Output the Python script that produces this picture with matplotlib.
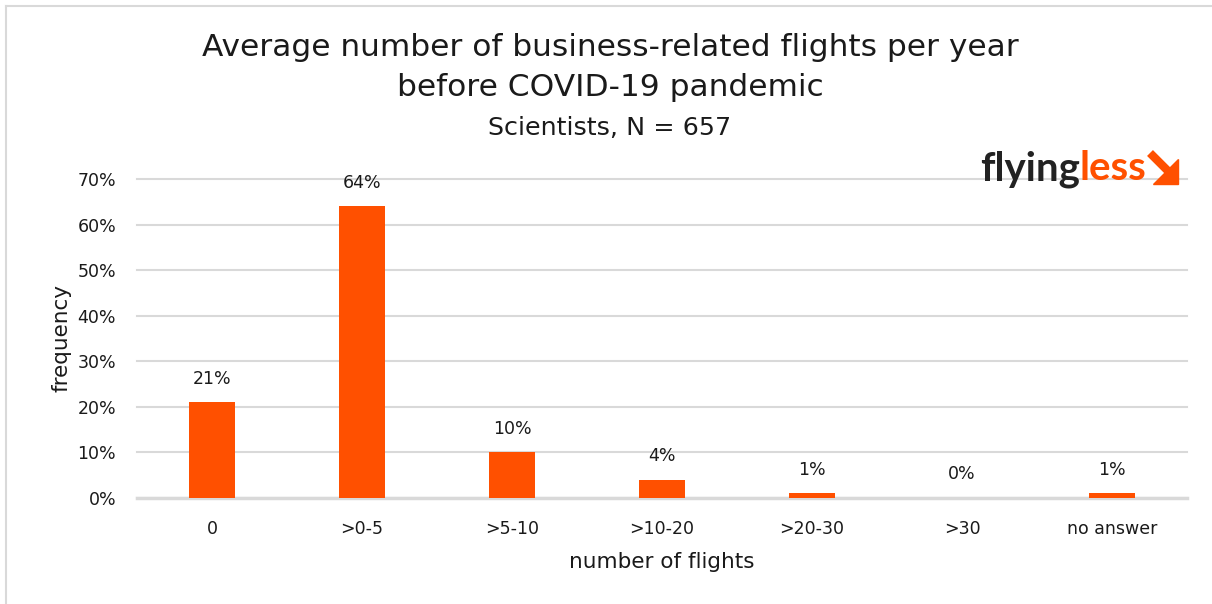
import matplotlib.pyplot as plt
import numpy as np
from matplotlib.lines import Line2D
from matplotlib.patches import Polygon
from matplotlib.ticker import PercentFormatter

categories = ["0", ">0-5", ">5-10", ">10-20", ">20-30", ">30", "no answer"]
values = [21, 64, 10, 4, 1, 0, 1]
yticks = [0, 10, 20, 30, 40, 50, 60, 70]

orange = "#FF5000"
grid_c = "#D9D9D9"
txt_c = "#1a1a1a"
W, H = 1212, 604
plt.rcParams['font.family'] = ['DejaVu Sans']


def px(x, y):
    # pixel position (from top-left) -> figure fraction
    return x / W, 1 - y / H


fig = plt.figure(figsize=(W / 100, H / 100), dpi=100)
ax = fig.add_axes([137 / W, 1 - 498 / H, 1050 / W, 319 / H])

x = np.arange(len(categories))
ax.bar(x, values, width=0.31, color=orange, zorder=3)
for xi, v in zip(x, values):
    ax.annotate(f"{v}%", (xi, v), xytext=(0, 17), textcoords="offset points",
                ha="center", va="center", fontsize=12.5, color=txt_c)

ax.set_xlim(-0.5, len(categories) - 0.5)
ax.set_ylim(0, 70)
ax.set_yticks(yticks)
ax.yaxis.set_major_formatter(PercentFormatter(decimals=0))
ax.set_xticks(x)
ax.set_xticklabels(categories)
ax.tick_params(length=0, labelsize=12.5, colors=txt_c)
ax.tick_params(axis="x", pad=16)
ax.tick_params(axis="y", pad=15)
ax.grid(axis="y", color=grid_c, linewidth=1.5, zorder=0)
for gl in ax.get_ygridlines():
    gl.set_clip_on(False)
for s in ["top", "right", "left"]:
    ax.spines[s].set_visible(False)
ax.spines["bottom"].set_color(grid_c)
ax.spines["bottom"].set_linewidth(2.5)
ax.set_xlabel("number of flights", fontsize=15.5, labelpad=10, color=txt_c)
ax.set_ylabel("frequency", fontsize=15.5, labelpad=4, color=txt_c)

fig.text(*px(610, 47), "Average number of business-related flights per year",
         ha="center", va="center", fontsize=22.5, color=txt_c)
fig.text(*px(610, 88), "before COVID-19 pandemic",
         ha="center", va="center", fontsize=22.5, color=txt_c)
fig.text(*px(610, 128), "Scientists, N = 657",
         ha="center", va="center", fontsize=18.3, color=txt_c)

# logo
t1 = fig.text(*px(980, 169), "flying", ha="left", va="center",
              fontsize=29, color="#222222", fontweight="bold", family="Lato")
fig.canvas.draw()
bb = t1.get_window_extent()
fig.text(bb.x1 / W, 1 - 169 / H, "less", ha="left", va="center",
         fontsize=29, color=orange, fontweight="bold", family="Lato")
fig.add_artist(Line2D(*zip(px(1150, 153), px(1168, 171)), color=orange,
                      linewidth=6, solid_capstyle="butt"))
fig.add_artist(Polygon([px(1178, 159), px(1178, 184), px(1153, 184)],
                       closed=True, color=orange))

# frame
fig.add_artist(Line2D([6 / W, 6 / W], [0, 1 - 6 / H], color=grid_c, linewidth=1.5))
fig.add_artist(Line2D([6 / W, 1], [1 - 6 / H, 1 - 6 / H], color=grid_c, linewidth=1.5))

fig.savefig("out.png", dpi=100)
